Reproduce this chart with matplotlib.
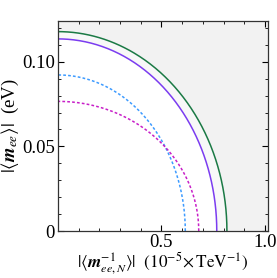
import matplotlib
matplotlib.use('Agg')
import matplotlib.pyplot as plt
import numpy as np
from matplotlib.ticker import MultipleLocator

plt.rcParams['font.family'] = 'Liberation Serif'
plt.rcParams['mathtext.fontset'] = 'stix'

# intercepts of the quarter ellipses: (x axis, y axis)
names = ['green', 'purple', 'blue', 'magenta']
x_int = [0.816, 0.767, 0.615, 0.680]
y_int = [0.1178, 0.1135, 0.0922, 0.0766]
colors = ['#1b7a45', '#7b3cf0', '#3d9bff', '#c81fc8']
dashed = [False, False, True, True]

t = np.linspace(0, np.pi / 2, 300)

fig = plt.figure(figsize=(2.77, 2.78), dpi=100)
ax = fig.add_axes([0.209, 0.169, 0.759, 0.755])
ax.set_xlim(0, 1.015)
ax.set_ylim(0, 0.124)
ax.set_facecolor('#f2f2f2')

# shading: lighter between purple and green, white inside purple
xs = x_int[0] * np.cos(t); ys = y_int[0] * np.sin(t)
ax.fill(np.r_[0, xs], np.r_[0, ys], color='#f8f8f8', lw=0, zorder=1)
xs = x_int[1] * np.cos(t); ys = y_int[1] * np.sin(t)
ax.fill(np.r_[0, xs], np.r_[0, ys], color='white', lw=0, zorder=1)

for a, b, c, d in zip(x_int, y_int, colors, dashed):
    line, = ax.plot(a * np.cos(t), b * np.sin(t), color=c, lw=1.1, zorder=2)
    if d:
        line.set_dashes((1.8, 1.4))

ax.xaxis.set_minor_locator(MultipleLocator(0.1))
ax.yaxis.set_minor_locator(MultipleLocator(0.01))
ax.set_xticks([0.5, 1.0])
ax.set_xticklabels(['0.5', '1.0'])
ax.set_yticks([0, 0.05, 0.10])
ax.set_yticklabels(['0', '0.05', '0.10'])
ax.tick_params(which='both', direction='in', top=True, right=True, labelsize=13.5, pad=2)
ax.tick_params(which='major', length=4, width=0.8)
ax.tick_params(which='minor', length=2.5, width=0.6)
for sp in ax.spines.values():
    sp.set_linewidth(0.9)
    sp.set_color('#333333')

ax.set_ylabel(r'$|\langle \mathbfit{m}_{ee}\rangle|$  (eV)', fontsize=13.5, labelpad=1)
ax.set_xlabel(r'$|\langle \mathbfit{m}^{-1}_{ee,N}\rangle|$  $(10^{-5}\!\times\mathrm{TeV}^{-1})$', fontsize=12.3, labelpad=0)

fig.savefig('out.png', dpi=100)
